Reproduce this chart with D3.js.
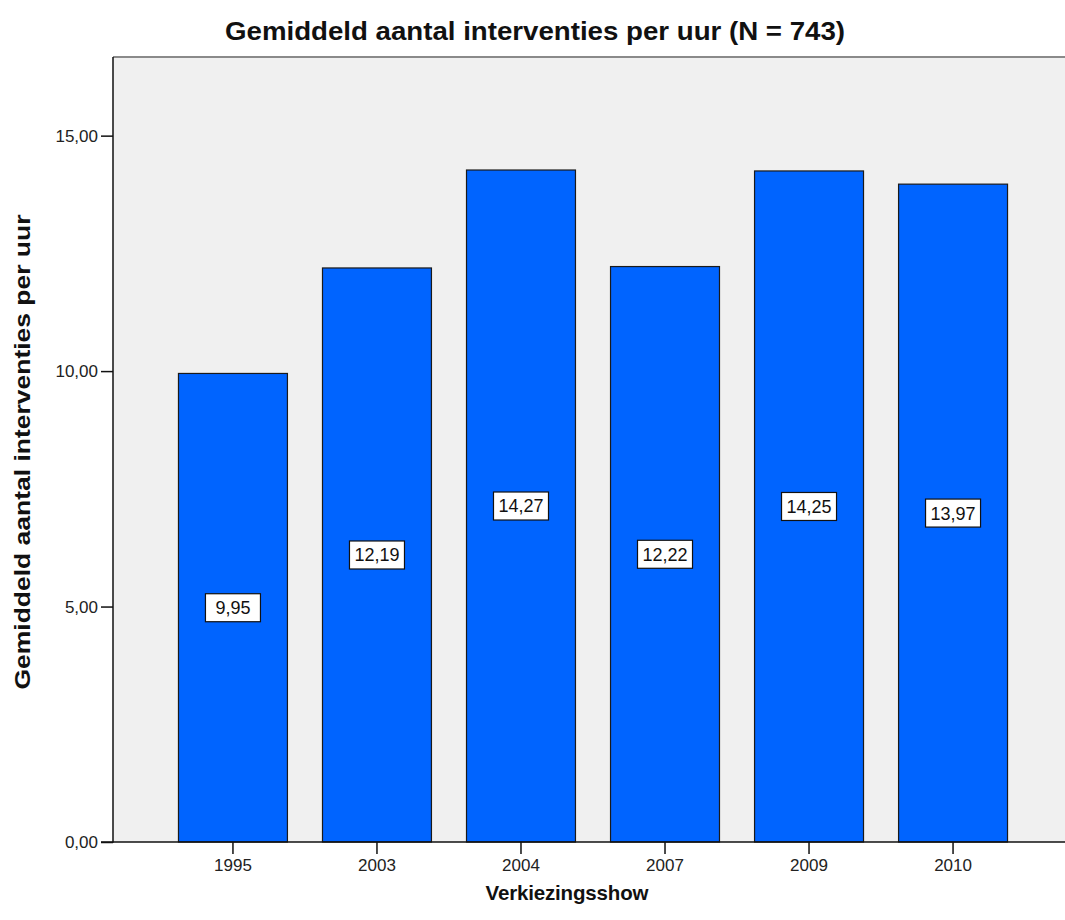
<!DOCTYPE html>
<html><head><meta charset="utf-8">
<script src="https://cdn.jsdelivr.net/npm/d3@7"></script>
<style>body{margin:0;background:#fff;} text{font-family:"Liberation Sans",Arial,sans-serif;}</style>
</head><body><svg id="chart" width="1065" height="920"></svg>
<script>
const categories = ["1995","2003","2004","2007","2009","2010"];
const values = [9.95, 12.19, 14.27, 12.22, 14.25, 13.97];
const yTicks = [0, 5, 10, 15];
const title = "Gemiddeld aantal interventies per uur (N = 743)";
const xTitle = "Verkiezingsshow";
const yTitle = "Gemiddeld aantal interventies per uur";

(function () {
const svg = d3.select("#chart");
const pl = 113, pt = 57, pb = 842, pr = 1073;
const x = d3.scaleBand().domain(categories).range([pl, pr]).paddingInner(0.2434).paddingOuter(0.4546);
const y = d3.scaleLinear().domain([0, 16.67]).range([pb, pt]);
const fmt = v => d3.format(".2f")(v).replace(".", ",");

svg.append("rect").attr("x", pl).attr("y", pt).attr("width", pr - pl).attr("height", pb - pt).attr("fill", "#f0f0f0");
svg.append("line").attr("x1", pl).attr("x2", pr).attr("y1", pt).attr("y2", pt).attr("stroke", "#8a8a8a").attr("stroke-width", 2);

svg.selectAll("rect.bar").data(values).join("rect").attr("class", "bar")
  .attr("x", (d, i) => x(categories[i])).attr("width", x.bandwidth())
  .attr("y", d => y(d)).attr("height", d => y(0) - y(d))
  .attr("fill", "#0064ff").attr("stroke", "#1a1a1a").attr("stroke-width", 1.2);

const yAxis = svg.append("g").attr("transform", `translate(${pl},0)`)
  .call(d3.axisLeft(y).tickValues(yTicks).tickFormat(fmt).tickSize(12).tickPadding(3));
const xAxis = svg.append("g").attr("transform", `translate(0,${pb})`)
  .call(d3.axisBottom(x).tickSize(12).tickPadding(5).tickSizeOuter(0));
[yAxis, xAxis].forEach(g => {
  g.select(".domain").attr("stroke", "#111").attr("stroke-width", 1.5);
  g.selectAll(".tick line").attr("stroke", "#111").attr("stroke-width", 1.5);
  g.selectAll(".tick text").attr("fill", "#222").style("font-size", "17px").style("font-family", "'Liberation Sans',Arial,sans-serif");
});
yAxis.select(".domain").attr("d", `M-12,${y(0)}H0V${pt}`);
xAxis.select(".domain").attr("d", `M${pl},0H${pr}`);

const labels = svg.selectAll("g.lab").data(values).join("g").attr("class", "lab")
  .attr("transform", (d, i) => `translate(${x(categories[i]) + x.bandwidth() / 2},${y(d / 2)})`);
labels.append("rect").attr("x", -27.5).attr("y", -14).attr("width", 55).attr("height", 28)
  .attr("fill", "#fff").attr("stroke", "#111").attr("stroke-width", 1.2);
labels.append("text").attr("text-anchor", "middle").attr("dy", "0.36em")
  .style("font-size", "18px").attr("fill", "#111").text(d => fmt(d));

svg.append("text").attr("x", 535).attr("y", 40).attr("text-anchor", "middle")
  .attr("textLength", 620).attr("lengthAdjust", "spacingAndGlyphs")
  .style("font-size", "25px").style("font-weight", "bold").attr("fill", "#111").text(title);
svg.append("text").attr("x", 567).attr("y", 900).attr("text-anchor", "middle")
  .attr("textLength", 163).attr("lengthAdjust", "spacing")
  .style("font-size", "20.5px").style("font-weight", "bold").attr("fill", "#111").text(xTitle);
svg.append("text").attr("transform", `translate(30,452) rotate(-90)`).attr("text-anchor", "middle")
  .attr("textLength", 475).attr("lengthAdjust", "spacingAndGlyphs")
  .style("font-size", "22px").style("font-weight", "bold").attr("fill", "#111").text(yTitle);
})();
</script></body></html>
